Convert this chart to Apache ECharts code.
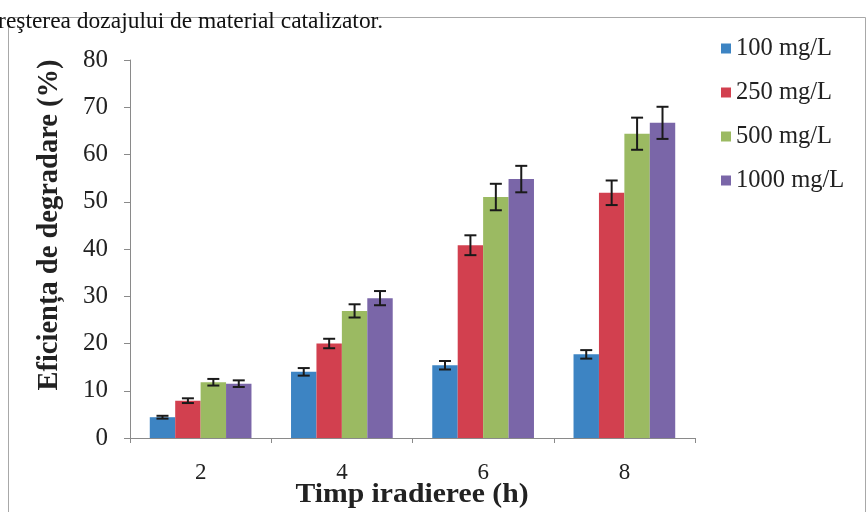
<!DOCTYPE html>
<html>
<head>
<meta charset="utf-8">
<script src="https://cdn.jsdelivr.net/npm/echarts@6/dist/echarts.min.js"></script>
<style>
  html, body { margin: 0; padding: 0; background: #ffffff; }
  #chart { width: 868px; height: 512px; }
</style>
</head>
<body>
<div id="chart"></div>
<script>
// Irradiation times (h)
const categories = ['2', '4', '6', '8'];

// Catalyst dosage series
const seriesNames = ['100 mg/L', '250 mg/L', '500 mg/L', '1000 mg/L'];

// Degradation efficiency (%) per dosage
const eff100 = [4.4, 14.0, 15.4, 17.7];
const eff250 = [7.9, 20.0, 40.8, 51.9];
const eff500 = [11.8, 26.9, 51.0, 64.4];
const eff1000 = [11.5, 29.6, 54.8, 66.7];

// Standard deviations (%)
const err100 = [0.3, 0.8, 0.9, 0.9];
const err250 = [0.5, 1.0, 2.1, 2.6];
const err500 = [0.7, 1.4, 2.8, 3.4];
const err1000 = [0.7, 1.5, 2.8, 3.4];

const yTicks = [0, 10, 20, 30, 40, 50, 60, 70, 80];

const values = [eff100, eff250, eff500, eff1000];
const errors = [err100, err250, err500, err1000];
const colors = ['#3d84c3', '#d2404f', '#9bba62', '#7a66a8'];

const SERIF = "'Liberation Serif', 'Times New Roman', serif";
const CAT_GAP = 0.28;

const chart = echarts.init(document.getElementById('chart'));

const barSeries = seriesNames.map((name, i) => ({
  name: name,
  type: 'bar',
  data: values[i],
  barGap: '0%',
  barCategoryGap: (CAT_GAP * 100) + '%',
  itemStyle: { color: colors[i] },
  animation: false
}));

// Error bars drawn over each bar of a group
const errorSeries = seriesNames.map((name, i) => ({
  type: 'custom',
  name: name + ' err',
  z: 10,
  animation: false,
  silent: true,
  data: values[i].map((v, k) => [k, v - errors[i][k], v + errors[i][k]]),
  renderItem: function (params, api) {
    const k = api.value(0);
    const lo = api.coord([k, api.value(1)]);
    const hi = api.coord([k, api.value(2)]);
    const band = api.size([1, 0])[0];
    const barW = band * (1 - CAT_GAP) / seriesNames.length;
    const x = lo[0] - band * (1 - CAT_GAP) / 2 + barW * (i + 0.5);
    const half = 6;
    const style = { stroke: '#1a1a1a', lineWidth: 2 };
    return {
      type: 'group',
      children: [
        { type: 'line', shape: { x1: x, y1: lo[1], x2: x, y2: hi[1] }, style: style },
        { type: 'line', shape: { x1: x - half, y1: hi[1], x2: x + half, y2: hi[1] }, style: style },
        { type: 'line', shape: { x1: x - half, y1: lo[1], x2: x + half, y2: lo[1] }, style: style }
      ]
    };
  }
}));

chart.setOption({
  backgroundColor: '#ffffff',
  animation: false,
  grid: { left: 130, right: 173, top: 60, bottom: 74, containLabel: false },
  legend: {
    data: seriesNames,
    orient: 'vertical',
    left: 716,
    top: 31,
    icon: 'rect',
    itemWidth: 10,
    itemHeight: 10,
    itemGap: 19,
    textStyle: { fontFamily: SERIF, fontSize: 24.5, color: '#222' }
  },
  xAxis: {
    type: 'category',
    data: categories,
    axisLine: { lineStyle: { color: '#8a8a8a', width: 1 } },
    axisTick: { show: true, length: 5, lineStyle: { color: '#8a8a8a' } },
    axisLabel: { fontFamily: SERIF, fontSize: 23, color: '#222', margin: 23 }
  },
  yAxis: {
    type: 'value',
    min: yTicks[0],
    max: yTicks[yTicks.length - 1],
    interval: yTicks[1] - yTicks[0],
    splitLine: { show: false },
    axisLine: { show: true, lineStyle: { color: '#8a8a8a', width: 1 } },
    axisTick: { show: true, length: 6, lineStyle: { color: '#8a8a8a' } },
    axisLabel: { fontFamily: SERIF, fontSize: 25, color: '#222', margin: 22 }
  },
  graphic: [
    {
      type: 'rect',
      shape: { x: 8.5, y: 17.5, width: 857, height: 520 },
      style: { fill: 'none', stroke: '#a8a8a8', lineWidth: 1 },
      silent: true
    },
    {
      type: 'text',
      x: 383, y: 10,
      scaleX: 1.02,
      style: {
        text: 'creşterea dozajului de material catalizator.',
        fontFamily: SERIF, fontSize: 23, fill: '#111',
        textAlign: 'right', textVerticalAlign: 'alphabetic'
      },
      silent: true
    },
    {
      type: 'text',
      x: 50, y: 225,
      rotation: Math.PI / 2,
      style: {
        text: 'Eficiența de degradare (%)',
        fontFamily: SERIF, fontSize: 28.5, fontWeight: 'bold', fill: '#222',
        textAlign: 'center', textVerticalAlign: 'middle'
      },
      silent: true
    },
    {
      type: 'text',
      x: 412, y: 495,
      scaleX: 1.1,
      style: {
        text: 'Timp iradieree (h)',
        fontFamily: SERIF, fontSize: 27, fontWeight: 'bold', fill: '#222',
        textAlign: 'center', textVerticalAlign: 'middle'
      },
      silent: true
    }
  ],
  series: barSeries.concat(errorSeries)
});
</script>
</body>
</html>
